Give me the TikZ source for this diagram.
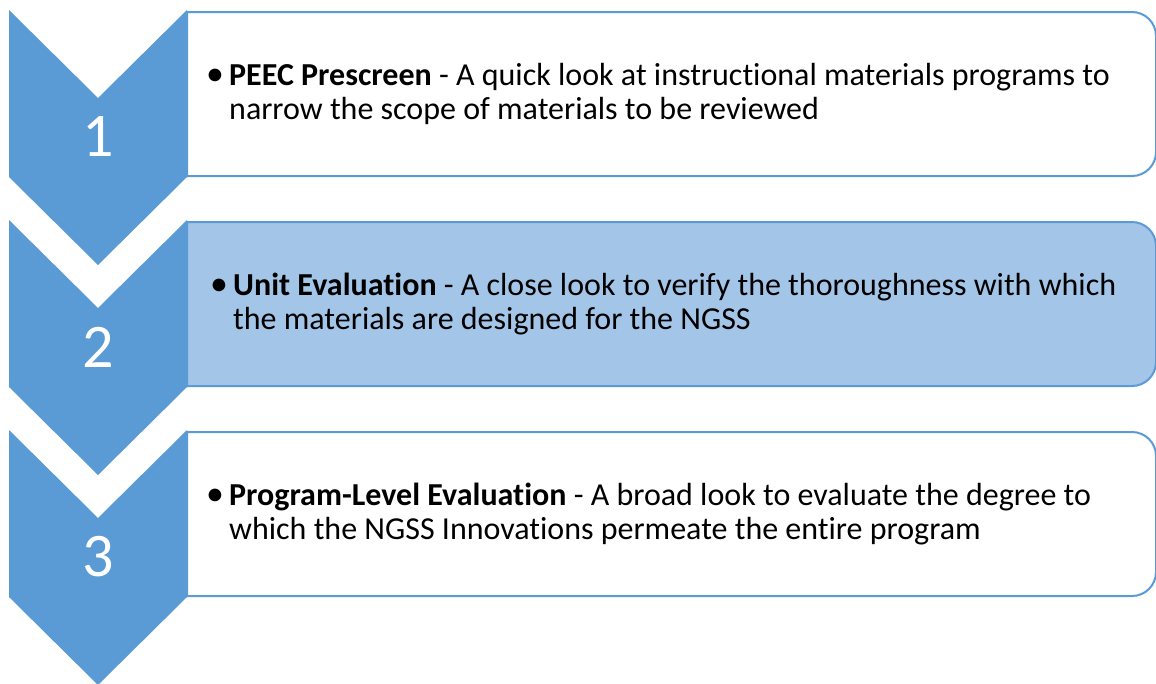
\documentclass[tikz,border=0pt]{standalone}
\usepackage{fontspec}
\setmainfont{Carlito}[Ligatures={NoCommon,NoDiscretionary,NoRare}]
\definecolor{chev}{HTML}{5B9BD5}
\definecolor{hilite}{HTML}{A3C5E8}
\tikzset{
  chevshape/.style={fill=chev, draw=none},
  boxshape/.style={draw=chev, line width=2pt},
  numtext/.style={text=white, font=\fontsize{62}{62}\selectfont, inner sep=0pt, anchor=center},
  bodytext/.style={text=black, font=\fontsize{32}{34.5}\selectfont, inner sep=0pt, anchor=base west}
}
\newcommand{\stepbox}[2]{%
  \path[boxshape,#2] (187,#1) -- (1132,#1) arc (-90:0:24) -- (1156,#1+140) arc (0:90:24) -- (187,#1+164) -- cycle;}
\newcommand{\stepchev}[1]{%
  \path[chevshape] (9,#1) -- (98,#1+88) -- (187,#1) -- (187,#1+167) -- (98,#1+255) -- (9,#1+167) -- cycle;}
\newcommand{\bul}{\makebox[24pt][l]{\hspace{1pt}\scalebox{1.12}{\textbullet}}}
\begin{document}
\begin{tikzpicture}[x=1pt,y=-1pt]
\clip (0,0) rectangle (1156,683);
\fill[white] (0,0) rectangle (1156,683);
% boxes
\stepbox{12}{fill=white}
\stepbox{222}{fill=hilite}
\stepbox{432}{fill=white}
% chevrons
\stepchev{10}
\stepchev{220}
\stepchev{430}
% numbers
\node[numtext] (n1) at (98,137) {1};
\node[numtext] (n2) at (98,347) {2};
\node[numtext] (n3) at (98,557) {3};
% texts
\node[bodytext] (t1) at (205,85) {\begin{tabular}[t]{@{}l@{}}\bul\textbf{PEEC Prescreen} - A quick look at instructional materials programs to\\\hspace{24pt}narrow the scope of materials to be reviewed\end{tabular}};
\node[bodytext] (t2) at (209,295) {\begin{tabular}[t]{@{}l@{}}\bul\textbf{Unit Evaluation} - A close look to verify the thoroughness with which\\\hspace{24pt}the materials are designed for the NGSS\end{tabular}};
\node[bodytext] (t3) at (205,505) {\begin{tabular}[t]{@{}l@{}}\bul\textbf{Program-Level Evaluation} - A broad look to evaluate the degree to\\\hspace{24pt}which the NGSS Innovations permeate the entire program\end{tabular}};
\end{tikzpicture}
\end{document}
